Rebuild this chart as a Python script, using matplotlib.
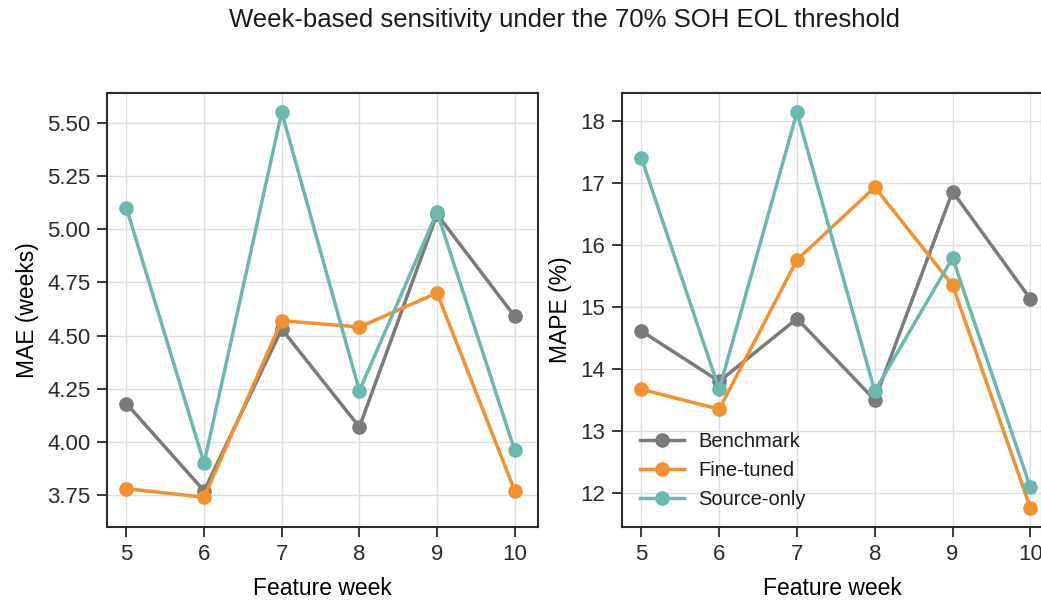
import matplotlib.pyplot as plt
import numpy as np

weeks = [5, 6, 7, 8, 9, 10]

mae_benchmark = [4.18, 3.77, 4.53, 4.07, 5.07, 4.59]
mae_finetuned = [3.78, 3.74, 4.57, 4.54, 4.70, 3.77]
mae_source = [5.10, 3.90, 5.55, 4.24, 5.08, 3.96]

mape_benchmark = [14.61, 13.80, 14.81, 13.50, 16.86, 15.13]
mape_finetuned = [13.67, 13.35, 15.76, 16.93, 15.35, 11.76]
mape_source = [17.40, 13.67, 18.14, 13.64, 15.79, 12.09]

series_names = ['Benchmark', 'Fine-tuned', 'Source-only']
colors = ['#7b7b7b', '#f39130', '#6cb8b0']

plt.rcParams['font.family'] = ['Liberation Sans', 'DejaVu Sans']
plt.rcParams['axes.edgecolor'] = '#2b2b2b'
plt.rcParams['xtick.color'] = '#2b2b2b'
plt.rcParams['ytick.color'] = '#2b2b2b'
plt.rcParams['text.color'] = '#1a1a1a'

fig = plt.figure(figsize=(10.41, 6.05), dpi=100)
ax1 = fig.add_axes([107 / 1041, 1 - 527 / 605, 431 / 1041, 434 / 605])
ax2 = fig.add_axes([622 / 1041, 1 - 527 / 605, 420 / 1041, 434 / 605])

def dibuja(ax, datos, ylabel):
    for vals, nombre, c in zip(datos, series_names, colors):
        ax.plot(weeks, vals, '-o', color=c, lw=2.5, ms=9.5, label=nombre)
    ax.grid(True, color='#dedede', lw=1)
    ax.set_axisbelow(True)
    ax.set_xticks(weeks)
    ax.set_xlabel('Feature week', fontsize=16.5, labelpad=9)
    ax.set_ylabel(ylabel, fontsize=16.5, labelpad=6)
    ax.tick_params(labelsize=16, length=7, width=1.3, pad=5, direction='out')
    for s in ax.spines.values():
        s.set_linewidth(1.5)

dibuja(ax1, [mae_benchmark, mae_finetuned, mae_source], 'MAE (weeks)')
ax1.set_xlim(4.75, 10.3)
ax1.set_ylim(3.6, 5.64)
ax1.set_yticks(np.arange(3.75, 5.51, 0.25))
ax1.set_yticklabels(['%.2f' % v for v in np.arange(3.75, 5.51, 0.25)])

dibuja(ax2, [mape_benchmark, mape_finetuned, mape_source], 'MAPE (%)')
ax2.set_xlim(4.75, 10.15)
ax2.set_ylim(11.45, 18.45)
ax2.set_yticks(range(12, 19))
ax2.legend(loc='lower left', frameon=False, fontsize=14.5, bbox_to_anchor=(0.0, 0.0),
           handlelength=2.2, labelspacing=0.5, handletextpad=0.7)

fig.suptitle('Week-based sensitivity under the 70% SOH EOL threshold', fontsize=18.5,
             x=0.542, y=0.987)

plt.savefig('out.png', dpi=100)
